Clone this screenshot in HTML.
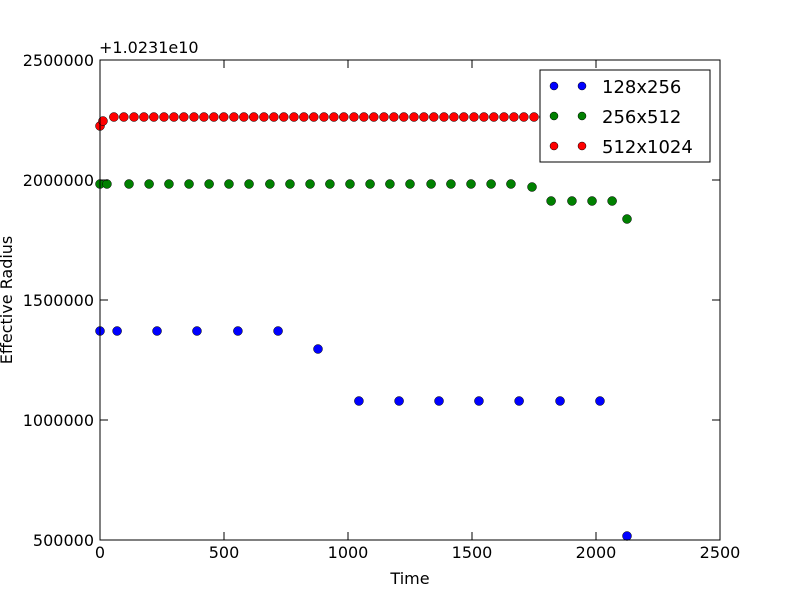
<!DOCTYPE html>
<html><head><meta charset="utf-8"><style>
body{margin:0;background:#fff;}
svg text{font-family:"DejaVu Sans","Liberation Sans",sans-serif;}
</style></head><body>
<svg id="chart" width="800" height="600" xmlns="http://www.w3.org/2000/svg">
<rect width="800" height="600" fill="#fff"/>
<g id="marks"></g>
<rect x="100" y="60" width="620" height="480" fill="none" stroke="#000" stroke-width="1"/>
<g id="ticks"></g>
<text x="99" y="53" font-size="16">+1.0231e10</text>
<text x="410" y="584" font-size="16" text-anchor="middle">Time</text>
<text transform="translate(12,300) rotate(-90)" font-size="16" text-anchor="middle">Effective Radius</text>
<g>
<rect x="540" y="70" width="170" height="92" fill="#fff" stroke="#000"/>
<g><circle cx="554" cy="86" r="4" fill="#0000ff" stroke="#000" stroke-width="0.5"/><circle cx="582" cy="86" r="4" fill="#0000ff" stroke="#000" stroke-width="0.5"/><text x="602" y="93" font-size="18">128x256</text></g>
<g><circle cx="554" cy="116" r="4" fill="#008000" stroke="#000" stroke-width="0.5"/><circle cx="582" cy="116" r="4" fill="#008000" stroke="#000" stroke-width="0.5"/><text x="602" y="123" font-size="18">256x512</text></g>
<g><circle cx="554" cy="146" r="4" fill="#ff0000" stroke="#000" stroke-width="0.5"/><circle cx="582" cy="146" r="4" fill="#ff0000" stroke="#000" stroke-width="0.5"/><text x="602" y="153" font-size="18">512x1024</text></g>
</g>
</svg>
<script>
const xTicks=[0,500,1000,1500,2000,2500];
const yTicks=[500000,1000000,1500000,2000000,2500000];
const blueT=[0,69,230,391,556,718,879,1044,1206,1367,1528,1690,1855,2016,2125];
const blueV=[1370833,1370833,1370833,1370833,1370833,1370833,1295833,1079167,1079167,1079167,1079167,1079167,1079167,1079167,516667];
const greenT=[0,28,117,198,278,359,440,520,601,685,766,847,927,1008,1089,1169,1250,1335,1415,1496,1577,1657,1742,1819,1903,1984,2065,2125];
const greenV=[1983333,1983333,1983333,1983333,1983333,1983333,1983333,1983333,1983333,1983333,1983333,1983333,1983333,1983333,1983333,1983333,1983333,1983333,1983333,1983333,1983333,1983333,1970833,1912500,1912500,1912500,1912500,1837500];
const redT=[0,12,56,96,137,177,217,258,298,338,379,419,459,499,540,580,620,661,701,741,782,822,862,903,943,983,1024,1064,1104,1145,1185,1225,1266,1306,1346,1387,1427,1467,1508,1548,1588,1629,1669,1709,1750,1790,1830,1871,1911,1951,1992,2032,2072,2113];
const redV=[2225000,2245800,2262500,2262500,2262500,2262500,2262500,2262500,2262500,2262500,2262500,2262500,2262500,2262500,2262500,2262500,2262500,2262500,2262500,2262500,2262500,2262500,2262500,2262500,2262500,2262500,2262500,2262500,2262500,2262500,2262500,2262500,2262500,2262500,2262500,2262500,2262500,2262500,2262500,2262500,2262500,2262500,2262500,2262500,2262500,2262500,2262500,2262500,2262500,2262500,2262500,2262500,2262500,2262500];
const NS="http://www.w3.org/2000/svg";
function xs(v){return 100+v*620/2500;}
function ys(v){return 540-(v-500000)*480/2000000;}
function mk(tag,attrs,parent){const e=document.createElementNS(NS,tag);for(const k in attrs)e.setAttribute(k,attrs[k]);parent.appendChild(e);return e;}
const marks=document.getElementById('marks');
function series(T,V,color,name){
  for(let i=0;i<T.length;i++){
    const c=mk('circle',{cx:xs(T[i]),cy:ys(V[i]),r:4.5,fill:color,stroke:'#000','stroke-width':0.5},marks);
    
    
  }
}
series(redT,redV,'#ff0000','512x1024');
series(greenT,greenV,'#008000','256x512');
series(blueT,blueV,'#0000ff','128x256');
const tk=document.getElementById('ticks');
xTicks.forEach(t=>{const x=xs(t);
  mk('line',{x1:x,x2:x,y1:540,y2:532,stroke:'#000'},tk);
  mk('line',{x1:x,x2:x,y1:60,y2:68,stroke:'#000'},tk);
  const l=mk('text',{x:x,y:558,'font-size':16,'text-anchor':'middle'},tk);l.textContent=t;
  
  
});
yTicks.forEach(t=>{const y=ys(t);
  mk('line',{x1:100,x2:108,y1:y,y2:y,stroke:'#000'},tk);
  mk('line',{x1:720,x2:712,y1:y,y2:y,stroke:'#000'},tk);
  const l=mk('text',{x:94,y:y+6,'font-size':16,'text-anchor':'end'},tk);l.textContent=t;
  
  
});
</script>
</body></html>
